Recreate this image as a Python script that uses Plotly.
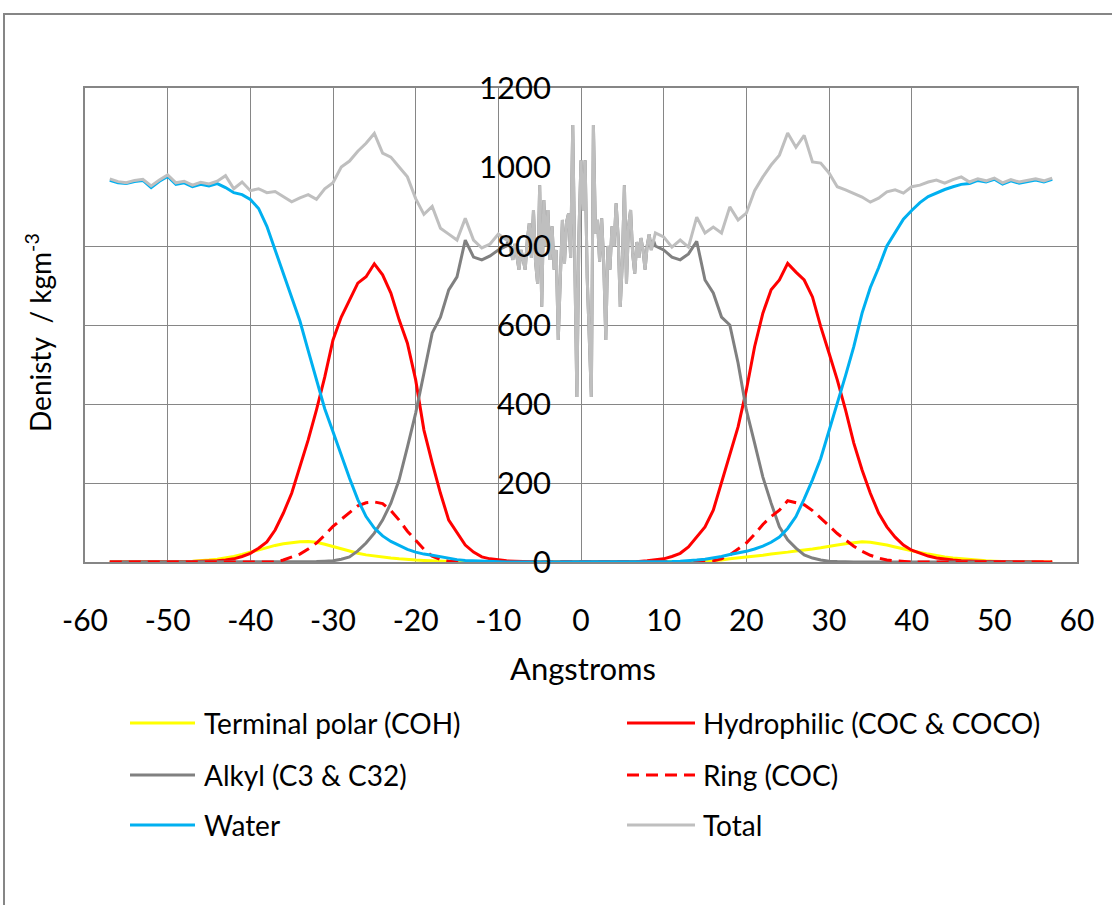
import numpy as np
import plotly.graph_objects as go

# density profiles (kg m^-3), one value per angstrom
x_all = np.arange(-57, 58, 1)

terminal_polar = [0, 0, 0, 0, 0, 0, 0, 0, 1, 1, 2, 3, 5, 7, 10, 14, 19, 25, 31, 37,
                  42, 46, 49, 51, 52, 50, 45, 39, 33, 27, 22, 18, 15, 12, 10, 8, 6, 5, 4, 3,
                  2, 1,
                  0, 0, 0, 0, 0, 0, 0, 0, 0, 0, 0, 0, 0, 0, 0, 0, 0, 0, 0, 0,
                  0, 0, 0, 0, 0, 0, 0, 0, 0,
                  1, 2, 3, 5, 8, 10, 13, 15, 17, 20, 22, 25, 28, 30, 33, 36, 40, 43, 46, 49,
                  51, 50, 47, 43, 38, 33, 28, 24, 20, 16, 13, 10, 8, 6, 4, 3, 2, 1,
                  0, 0, 0, 0, 0, 0]

hydrophilic = [0, 0, 0, 0, 0, 0, 1, 0, 1, 1, 1, 2, 2,
               3, 5, 8, 14, 22, 35, 51, 81, 124, 174, 241, 309, 385, 468, 562, 620, 663, 706,
               722, 755, 727, 681, 613, 554, 461, 334, 251, 174, 106, 73, 43, 25, 13, 8, 5, 3,
               2, 1,
               0, 0, 0, 0, 0, 0, 0, 0, 0, 0, 0, 0, 0,
               1, 3, 6, 8, 14, 22, 38, 63, 89, 131, 200, 275, 342, 435, 545, 630, 689, 714,
               756, 734, 714, 671, 596, 529, 461, 385, 301, 233, 174, 124, 89, 63, 43, 30, 22,
               15, 10, 7, 5, 3, 2, 2, 1, 1, 1, 0, 0, 0, 0, 0, 0]

ring = [0, 0, 0, 0, 0, 0, 0, 0, 0, 0, 0, 0, 0, 0, 0, 0, 0, 0, 0, 0, 0,
        5, 13, 20, 33, 48, 68, 90, 108, 125, 142, 150, 152, 148, 130, 106, 78, 55, 32, 15, 6,
        2, 1,
        0, 0, 0, 0, 0, 0, 0, 0, 0, 0, 0, 0, 0, 0, 0, 0, 0, 0, 0, 0, 0, 0, 0, 0, 0, 0, 0, 0, 0,
        1, 3, 8, 18, 32, 48, 70, 95, 115, 131, 155, 150, 145, 130, 112, 92, 72, 55, 40, 27,
        17, 10, 5, 3, 1,
        0, 0, 0, 0, 0, 0, 0, 0, 0, 0, 0, 0, 0, 0, 0, 0, 0, 0]

water = [966, 960, 958, 963, 966, 948, 964, 976, 956, 960, 950, 956, 952, 958, 948, 935,
         930, 918, 895, 850, 790, 730, 671, 610, 535, 458, 388, 330, 268, 212, 158, 115, 86,
         66, 52, 41, 32, 25, 20, 17, 13, 9, 6, 4, 3, 2, 1,
         0, 0, 0, 0, 0, 0, 0, 0, 0, 0, 0, 0, 0, 0, 0, 0, 0, 0, 0, 0,
         1, 1, 2, 3, 5, 7, 10, 14, 19, 23, 27, 33, 40, 50, 63, 85, 115, 160, 208, 262, 330,
         400, 472, 545, 630, 695, 745, 800, 835, 868, 890, 910, 925, 935, 943, 950, 956, 958,
         966, 962, 969, 957, 965, 959, 963, 967, 962, 969]

# alkyl: -57..-9 and 9..57 (the centre is the same as the total)
alkyl_left = [0, 0, 0, 0, 0, 0, 0, 0, 0, 0, 0, 0, 0, 0, 0, 0, 0, 0, 0, 0, 0, 0, 0, 0, 0,
              1, 2, 3, 7, 13, 28, 48, 73, 106, 149, 208, 291, 377, 478, 580, 620, 689, 722,
              815, 772, 765, 775, 790, 800]
alkyl_right = [800, 790, 772, 765, 780, 812, 714, 681, 620, 600, 504, 385, 301, 215, 149,
               89, 56, 35, 18, 10, 5, 2, 1,
               0, 0, 0, 0, 0, 0, 0, 0, 0, 0, 0, 0, 0, 0, 0, 0, 0, 0, 0, 0, 0, 0, 0, 0]

# total: -57..-9, then -8.75..8.75 every 0.25, then 9..57
total_left = [970, 963, 960, 966, 969, 952, 967, 980, 960, 964,
              954, 961, 957, 964, 978, 945, 962, 940, 945, 935,
              938, 925, 912, 922, 930, 918, 945, 960, 1000, 1015,
              1040, 1060, 1085, 1035, 1025, 1000, 975, 920, 880, 900,
              845, 830, 815, 870, 815, 795, 805, 830, 815]
total_mid = [823, 790, 765, 805, 775, 740, 790, 760, 740, 815, 858,
             770, 891, 760, 705, 954, 646, 916, 800, 891, 765, 850,
             740, 790, 562, 720, 866, 756, 860, 883, 770, 1106, 760,
             418, 830, 1017, 890, 1017, 720, 560, 418, 1106, 832, 866,
             760, 870, 756, 562, 800, 740, 850, 799, 908, 820, 646,
             760, 954, 705, 850, 891, 780, 730, 810, 770, 820, 790,
             740, 800, 830, 790, 815]
total_right = [833, 823, 797, 815, 797, 873, 833, 848, 833, 899, 866, 883, 940, 975, 1005,
               1030, 1086, 1050, 1080, 1013, 1010, 985, 950, 942, 934, 924, 911, 921, 937,
               942, 934, 950, 954, 962, 967, 959, 968, 975, 962, 970, 965, 972, 960, 968,
               962, 966, 970, 965, 972]

x_left = np.arange(-57, -8, 1)
x_mid = np.arange(-8.75, 8.76, 0.25)
x_right = np.arange(9, 58, 1)
x_total = np.concatenate([x_left, x_mid, x_right])
total = total_left + total_mid + total_right
alkyl = alkyl_left + total_mid + alkyl_right

x_ticks = list(range(-60, 61, 10))
x_ticktext = [str(v) for v in x_ticks]  # plain hyphen, as in the original
x_grid = [-50, -40, -30, -20, -10, 0, 10, 20, 30, 40]
y_ticks = list(range(0, 1201, 200))
y_grid = [200, 400, 600, 800]

series = [
    ("Terminal polar (COH)", x_all, terminal_polar, "#FFFF00", "solid"),
    ("Hydrophilic (COC & COCO)", x_all, hydrophilic, "#FF0000", "solid"),
    ("Alkyl (C3 & C32)", x_total, alkyl, "#808080", "solid"),
    ("Ring (COC)", x_all, ring, "#FF0000", "12px,7px"),
    ("Water", x_all, water, "#00B0F0", "solid"),
    ("Total", x_total, total, "#BFBFBF", "solid"),
]

# plot area in pixels
L, R, T, B = 85, 1077, 88, 562
W, H = R - L, B - T


def px_x(p):
    return (p - L) / W


def px_y(p):
    return (B - p) / H


FONT = "Lato, 'Open Sans', sans-serif"
GRID = "#868686"

fig = go.Figure()
for name, xs, ys, color, dash in series:
    fig.add_trace(go.Scatter(x=xs, y=ys, name=name, mode="lines",
                             line=dict(color=color, width=3, dash=dash),
                             showlegend=False))

# empty trace that carries the label axes
fig.add_trace(go.Scatter(x=[None], y=[None], xaxis="x2", yaxis="y2",
                         showlegend=False, hoverinfo="skip"))

# legend drawn by hand: 2 columns, long line samples
legend_cols = [(130, 195, 202), (627, 695, 701)]
legend_rows = [723, 775, 825]
for i, (name, xs, ys, color, dash) in enumerate(series):
    x0, x1, xt = legend_cols[i % 2]
    yy = legend_rows[i // 2]
    fig.add_shape(type="line", xref="paper", yref="paper",
                  x0=px_x(x0), x1=px_x(x1), y0=px_y(yy), y1=px_y(yy),
                  line=dict(color=color, width=3, dash=dash))
    fig.add_annotation(text=name, xref="paper", yref="paper", x=px_x(xt), y=px_y(yy),
                       xanchor="left", yanchor="middle", showarrow=False,
                       font=dict(family=FONT, size=28, color="black"))

fig.add_annotation(text="Angstroms", xref="paper", yref="paper",
                   x=px_x(583), y=px_y(668), xanchor="center", yanchor="middle",
                   showarrow=False, font=dict(family=FONT, size=31, color="black"))
fig.add_annotation(text="Denisty\u00a0 / kgm<sup>-3</sup>", xref="paper", yref="paper",
                   x=px_x(38), y=px_y(333), xanchor="center", yanchor="middle",
                   textangle=-90, showarrow=False,
                   font=dict(family=FONT, size=28, color="black"))

# chart border (only left and top edges fall inside the picture)
fig.add_shape(type="rect", xref="paper", yref="paper",
              x0=px_x(4), x1=px_x(1300), y0=px_y(14), y1=px_y(1100),
              line=dict(color=GRID, width=2))

fig.update_layout(
    width=1112, height=905,
    margin=dict(l=L, r=1112 - R, t=T, b=905 - B),
    paper_bgcolor="white", plot_bgcolor="white",
    showlegend=False,
    xaxis=dict(range=[-60, 60], tickvals=x_grid, showticklabels=False, ticks="",
               showgrid=True, gridcolor=GRID, gridwidth=1.3, zeroline=False,
               showline=True, mirror=True, linecolor=GRID, linewidth=1.5),
    yaxis=dict(range=[0, 1200], tickvals=y_grid, showticklabels=False, ticks="",
               showgrid=True, gridcolor=GRID, gridwidth=1.3, zeroline=False,
               showline=True, mirror=True, linecolor=GRID, linewidth=1.5),
    xaxis2=dict(range=[-60, 60], overlaying="x", anchor="y", side="bottom",
                tickvals=x_ticks, ticktext=x_ticktext, ticks="", showgrid=False,
                zeroline=False, showline=False, ticklabelstandoff=38,
                tickfont=dict(family=FONT, size=30, color="black")),
    yaxis2=dict(range=[0, 1200], overlaying="y", anchor="free", position=0.5, side="left",
                tickvals=y_ticks, ticks="", showgrid=False, zeroline=False, showline=False,
                ticklabelstandoff=30, tickfont=dict(family=FONT, size=31, color="black")),
)

fig.write_html("out.html", config={"displayModeBar": False},
               post_script="document.body.style.margin='0';")
